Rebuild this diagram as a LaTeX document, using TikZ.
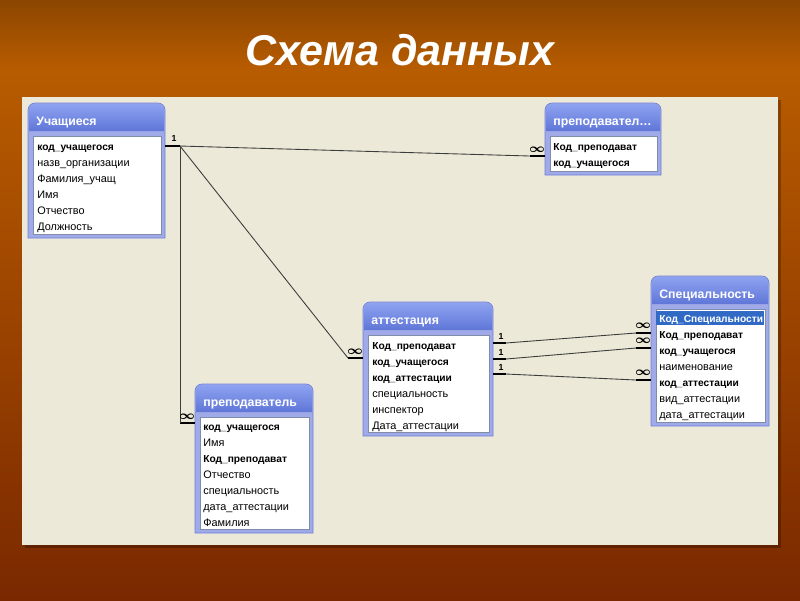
\documentclass[tikz,border=0pt]{standalone}
\usepackage{fontspec}
\setmainfont{Liberation Sans}
\definecolor{bgtop}{RGB}{140,70,0}
\definecolor{bgmid}{RGB}{184,92,0}
\definecolor{bgbot}{RGB}{122,40,0}
\definecolor{panel}{RGB}{236,233,216}
\definecolor{frameblue}{RGB}{110,128,216}
\definecolor{framelav}{RGB}{160,170,232}
\definecolor{titletop}{RGB}{141,162,240}
\definecolor{titlebot}{RGB}{96,118,216}
\definecolor{boxgray}{RGB}{127,140,170}
\definecolor{selblue}{RGB}{49,106,197}
\definecolor{linkgray}{RGB}{60,60,60}

\begin{document}
\begin{tikzpicture}[x=0.02cm,y=-0.02cm,
		row/.style={anchor=base west,inner sep=0pt,font=\fontsize{6.2}{7}\selectfont},
		keyrow/.style={row,font=\fontsize{5.8}{7}\selectfont\bfseries},
		selrow/.style={keyrow,text=white},
		ttl/.style={anchor=base west,inner sep=0pt,text=white,font=\fontsize{7}{8}\selectfont\bfseries},
		link/.style={draw=linkgray,line width=0.5pt},
		stub/.style={line width=1.6pt},
		one/.style={inner sep=0pt,font=\fontsize{5}{5}\selectfont\bfseries},
		many/.style={inner sep=0pt,font=\fontsize{7}{7}\selectfont\boldmath}]
		\useasboundingbox (0,0) rectangle (800,600);
		% background of the slide
		\shade[top color=bgtop,bottom color=bgmid] (0,0) rectangle (800,70);
		\shade[top color=bgmid,bottom color=bgbot] (0,70) rectangle (800,600);
		\node[text=white,font=\fontsize{24.5}{28}\selectfont\bfseries\itshape] (title) at (400,50) {Схема данных};
		\fill[black,opacity=0.25] (25,100) rectangle (781,548);
		\fill[panel] (22,97) rectangle (778,545);

		% tables
		\foreach \n/\xa/\ya/\xb/\yb/\t in {uch/28/103/165/238/Учащиеся, prep/545/103/661/175/преподавател\ldots, att/363/302/493/436/аттестация, spec/651/276/769/426/Специальность, prepb/195/384/313/533/преподаватель} {
			\filldraw[draw=frameblue,fill=framelav] (\xa,\yb) [rounded corners=4pt] -- (\xa,\ya) -- (\xb,\ya) [sharp corners] -- (\xb,\yb) -- cycle;
			\shade[top color=titletop,bottom color=titlebot] (\xa+1,\ya+28) [rounded corners=3.5pt] -- (\xa+1,\ya+1) -- (\xb-1,\ya+1) [sharp corners] -- (\xb-1,\ya+28) -- cycle;
			\filldraw[fill=white,draw=boxgray] (\xa+5,\ya+33) rectangle (\xb-4,\yb-4);
			\node[ttl] (\n-title) at (\xa+8,\ya+22) {\t};
		}
		\foreach \i/\s/\r in {1/keyrow/код\_учащегося, 2/row/назв\_организации, 3/row/Фамилия\_учащ, 4/row/Имя, 5/row/Отчество, 6/row/Должность}
			\node[\s] (uch-\i) at (37,134+16*\i) {\r};
		\foreach \i/\s/\r in {1/keyrow/Код\_преподават, 2/keyrow/код\_учащегося}
			\node[\s] (prep-\i) at (553,134+16*\i) {\r};
		\foreach \i/\s/\r in {1/keyrow/Код\_преподават, 2/keyrow/код\_учащегося, 3/keyrow/код\_аттестации, 4/row/специальность, 5/row/инспектор, 6/row/Дата\_аттестации}
			\node[\s] (att-\i) at (372,333+16*\i) {\r};
		\fill[selblue] (656,311) rectangle (764,325);
		\foreach \i/\s/\r in {1/selrow/Код\_Специальности, 2/keyrow/Код\_преподават, 3/keyrow/код\_учащегося, 4/row/наименование, 5/keyrow/код\_аттестации, 6/row/вид\_аттестации, 7/row/дата\_аттестации}
			\node[\s] (spec-\i) at (659,306+16*\i) {\r};
		\foreach \i/\s/\r in {1/keyrow/код\_учащегося, 2/row/Имя, 3/keyrow/Код\_преподават, 4/row/Отчество, 5/row/специальность, 6/row/дата\_аттестации, 7/row/Фамилия}
			\node[\s] (prepb-\i) at (203,414+16*\i) {\r};

		% relationships
		\coordinate (uA) at (165,146); \coordinate (uB) at (180,146);
		\coordinate (pA) at (530,156); \coordinate (pB) at (545,156);
		\coordinate (aA) at (348,358); \coordinate (aB) at (363,358);
		\coordinate (tA) at (180,423); \coordinate (tB) at (195,423);
		\draw[stub] (uA) -- (uB);
		\draw[stub] (pA) -- (pB);
		\draw[stub] (aA) -- (aB);
		\draw[stub] (tA) -- (tB);
		\draw[link] (uB) -- (pA);
		\draw[link] (uB) -- (aA);
		\draw[link] (uB) -- (tA);
		\node[one] (u-one) at (174,138) {1};
		\node[many] (p-many) at (537,150) {$\infty$};
		\node[many] (a-many) at (355,352) {$\infty$};
		\node[many] (t-many) at (187,417) {$\infty$};
		\foreach \k/\ya/\yb in {1/343/333, 2/359/348, 3/374/380} {
			\coordinate (l\k A) at (493,\ya); \coordinate (l\k B) at (506,\ya);
			\coordinate (r\k A) at (636,\yb); \coordinate (r\k B) at (651,\yb);
			\draw[stub] (l\k A) -- (l\k B);
			\draw[stub] (r\k A) -- (r\k B);
			\draw[link] (l\k B) -- (r\k A);
			\node[one] (l\k-one) at (501,\ya-7) {1};
			\node[many] (r\k-many) at (643,\yb-7) {$\infty$};
		}
\end{tikzpicture}
\end{document}
